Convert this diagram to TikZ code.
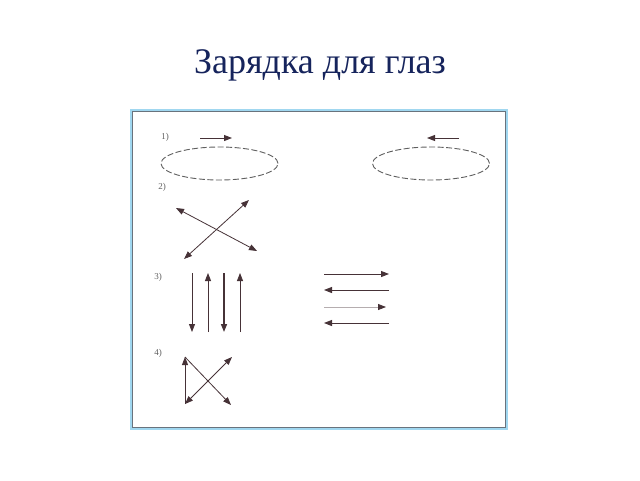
\documentclass[tikz,border=0pt]{standalone}
\usepackage{fontspec}
\setmainfont{Liberation Serif}
\usepackage{tikz}
\usetikzlibrary{arrows.meta,shapes.geometric}
\definecolor{titleblue}{RGB}{22,36,92}
\definecolor{framegray}{RGB}{105,115,125}
\definecolor{frameblue}{RGB}{160,215,240}
\definecolor{arrowbrown}{RGB}{70,50,55}
\definecolor{dashgray}{RGB}{95,95,95}

\begin{document}
\begin{tikzpicture}[x=1pt,y=-1pt,
  pfeil/.style={draw=arrowbrown,line width=1pt,-{Triangle[length=8pt,width=6pt]}},
  doppel/.style={draw=arrowbrown,line width=0.8pt,{Triangle[length=8pt,width=6pt]}-{Triangle[length=8pt,width=6pt]}},
  oval/.style={ellipse,draw=dashgray,line width=0.9pt,dash pattern=on 6pt off 2.5pt,minimum width=117pt,minimum height=33pt,inner sep=0pt},
  nummer/.style={font=\fontsize{9}{9}\selectfont,text=dashgray,inner sep=0pt}]
\useasboundingbox (0,0) rectangle (640,480);
\fill[white] (0,0) rectangle (640,480);
\node[anchor=base,text=titleblue,font=\fontsize{36}{36}\selectfont] (titel) at (320,73) {Зарядка для глаз};
% Rahmen
\draw[frameblue,line width=2.5pt] (131,110) rectangle (507,429);
\draw[framegray,line width=0.8pt] (132.5,111.5) rectangle (505.5,427.5);
% 1)
\node[nummer] (n1) at (165,137) {1)};
\node[oval] (ovalL) at (219.5,163.5) {};
\node[oval] (ovalR) at (431,163.5) {};
\coordinate (a1) at (200,138);
\coordinate (b1) at (232,138);
\coordinate (a2) at (459,138);
\coordinate (b2) at (427,138);
\draw[pfeil] (a1) -- (b1);
\draw[pfeil] (a2) -- (b2);
% 2)
\node[nummer] (n2) at (162,187) {2)};
\coordinate (k1) at (176,208);
\coordinate (k2) at (257,251);
\coordinate (k3) at (184,259);
\coordinate (k4) at (249,200);
\draw[doppel] (k1) -- (k2);
\draw[doppel] (k3) -- (k4);
% 3)
\node[nummer] (n3) at (158,277) {3)};
\coordinate (v1o) at (192,273);
\coordinate (v1u) at (192,332);
\coordinate (v2o) at (208,273);
\coordinate (v2u) at (208,332);
\coordinate (v3o) at (224,273);
\coordinate (v3u) at (224,332);
\coordinate (v4o) at (240,273);
\coordinate (v4u) at (240,332);
\draw[pfeil,line width=0.8pt] (v1o) -- (v1u);
\draw[pfeil] (v2u) -- (v2o);
\draw[pfeil,line width=1.5pt] (v3o) -- (v3u);
\draw[pfeil,line width=0.8pt] (v4u) -- (v4o);
\coordinate (h1l) at (324,274);
\coordinate (h1r) at (389,274);
\coordinate (h2l) at (324,290);
\coordinate (h2r) at (389,290);
\coordinate (h3l) at (324,307);
\coordinate (h3r) at (386,307);
\coordinate (h4l) at (324,323);
\coordinate (h4r) at (389,323);
\draw[pfeil] (h1l) -- (h1r);
\draw[pfeil] (h2r) -- (h2l);
\draw[pfeil,draw=arrowbrown!40,line width=0.8pt,-{Triangle[length=8pt,width=6pt,color=arrowbrown]}] (h3l) -- (h3r);
\draw[pfeil] (h4r) -- (h4l);
% 4)
\node[nummer] (n4) at (158,353) {4)};
\coordinate (q1) at (185,357);
\coordinate (q2) at (185,404);
\coordinate (q3) at (232,357);
\coordinate (q4) at (231,405);
\draw[pfeil] (q2) -- (q1);
\draw[pfeil,line width=0.8pt] (q1) -- (q4);
\draw[doppel] (q3) -- (q2);
\end{tikzpicture}
\end{document}
